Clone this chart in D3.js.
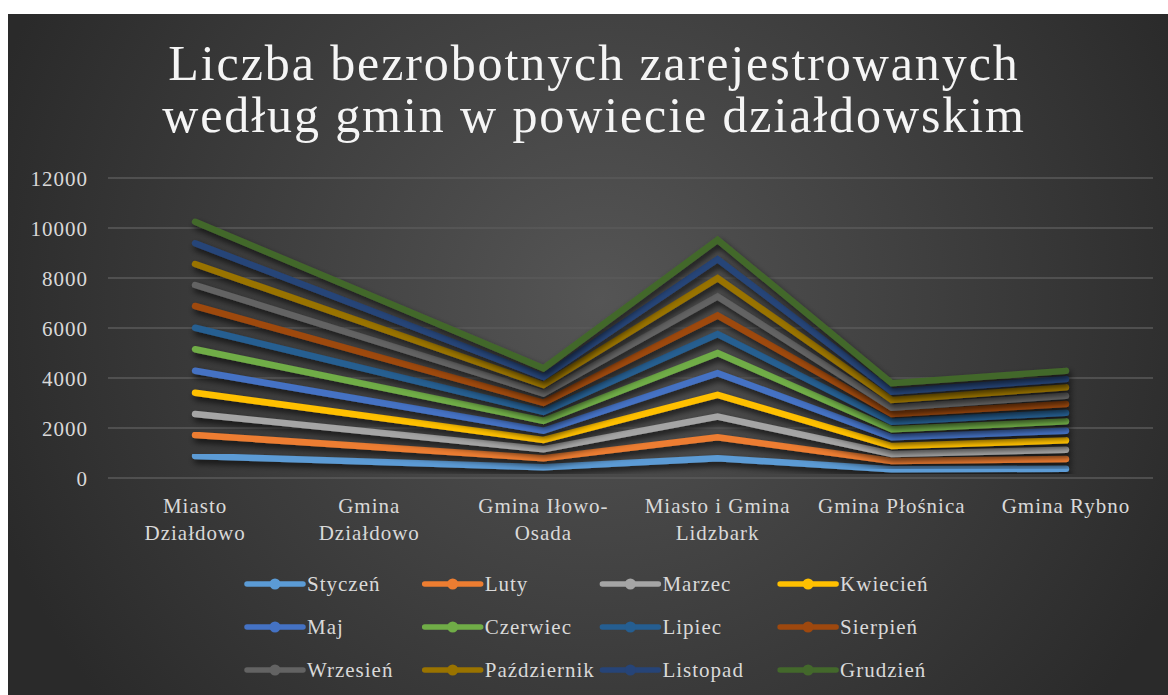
<!DOCTYPE html>
<html>
<head>
<meta charset="utf-8">
<script src="https://cdn.jsdelivr.net/npm/d3@7"></script>
<style>
  body { margin: 0; background: #fff; }
  svg text { font-family: "Liberation Serif", "Times New Roman", serif; }
</style>
</head>
<body>
<div id="chart"></div>
<script>
let categories = ["Miasto Działdowo", "Gmina Działdowo", "Gmina Iłowo-Osada", "Miasto i Gmina Lidzbark", "Gmina Płośnica", "Gmina Rybno"];
let months = ["Styczeń", "Luty", "Marzec", "Kwiecień", "Maj", "Czerwiec", "Lipiec", "Sierpień", "Wrzesień", "Październik", "Listopad", "Grudzień"];
let colors = ["#5B9BD5", "#ED7D31", "#A5A5A5", "#FFC000", "#4472C4", "#70AD47", "#255E91", "#9E480E", "#636363", "#997300", "#264478", "#43682B"];
let yTicks = [0, 2000, 4000, 6000, 8000, 10000, 12000];

// monthly values per gmina (Gmina Działdowo empty -> line connects over it)
let styczen     = [880, null, 430, 790, 350, 370];
let luty        = [840, null, 360, 840, 330, 390];
let marzec      = [840, null, 360, 825, 280, 370];
let kwiecien    = [850, null, 370, 870, 320, 375];
let maj         = [880, null, 370, 870, 350, 385];
let czerwiec    = [860, null, 400, 800, 320, 375];
let lipiec      = [860, null, 360, 760, 305, 345];
let sierpien    = [870, null, 360, 745, 310, 350];
let wrzesien    = [840, null, 375, 760, 250, 330];
let pazdziernik = [840, null, 335, 735, 310, 335];
let listopad    = [830, null, 330, 760, 330, 330];
let grudzien    = [860, null, 340, 770, 335, 330];
let seriesValues = [styczen, luty, marzec, kwiecien, maj, czerwiec, lipiec, sierpien, wrzesien, pazdziernik, listopad, grudzien];

let W = 1168, H = 695;
let plot = {left: 108, right: 1153, top: 178, bottom: 478};

let svg = d3.select("#chart").append("svg")
  .attr("width", W).attr("height", H);

let defs = svg.append("defs");
let grad = defs.append("radialGradient").attr("id", "bg")
  .attr("gradientUnits", "userSpaceOnUse")
  .attr("cx", 600).attr("cy", 300).attr("r", 640);
grad.append("stop").attr("offset", "0%").attr("stop-color", "#555555");
grad.append("stop").attr("offset", "100%").attr("stop-color", "#2a2a2a");

let shadow = defs.append("filter").attr("id", "shadow")
  .attr("x", "-10%").attr("y", "-10%").attr("width", "130%").attr("height", "140%");
shadow.append("feDropShadow").attr("dx", 2).attr("dy", 4).attr("stdDeviation", 3)
  .attr("flood-color", "#000").attr("flood-opacity", 0.7);

svg.append("rect").attr("x", 8).attr("y", 14).attr("width", W - 8).attr("height", H - 14)
  .attr("fill", "url(#bg)");

// title
let title = svg.append("text").attr("text-anchor", "middle")
  .attr("fill", "#f5f5f5").style("font-size", "50px").style("letter-spacing", "1.9px");
title.append("tspan").attr("x", 594).attr("y", 80).text("Liczba bezrobotnych zarejestrowanych");
title.append("tspan").attr("x", 594).attr("y", 132).text("według gmin w powiecie działdowskim");

let x = d3.scaleBand().domain(categories).range([plot.left, plot.right]);
let y = d3.scaleLinear().domain([0, 12000]).range([plot.bottom, plot.top]);
let cx = c => x(c) + x.bandwidth() / 2;

// grid
svg.append("g").selectAll("line").data(yTicks).enter().append("line")
  .attr("x1", plot.left).attr("x2", plot.right)
  .attr("y1", d => y(d)).attr("y2", d => y(d))
  .attr("stroke", "#5a5a5a").attr("stroke-width", 1.5);

// y axis
let yAxis = svg.append("g").attr("transform", "translate(" + plot.left + ",0)")
  .call(d3.axisLeft(y).tickValues(yTicks).tickSize(0).tickPadding(20).tickFormat(d3.format("d")));
yAxis.select(".domain").remove();
yAxis.selectAll("text").attr("fill", "#d9d9d9").style("font-size", "21px")
  .style("letter-spacing", "1px").attr("dy", "0.35em");

// x axis labels
let xAxis = svg.append("g").attr("transform", "translate(0," + plot.bottom + ")")
  .call(d3.axisBottom(x).tickSize(0).tickPadding(0));
xAxis.select(".domain").remove();
xAxis.selectAll("text").attr("fill", "#d9d9d9").style("font-size", "21px")
  .style("letter-spacing", "1px").attr("y", 35).attr("dy", 0)
  .each(function(d){ wrap(d3.select(this), d, 150); });

function wrap(sel, label, maxW){
  let tokens = label.match(/[^ -]+[ -]?/g);
  sel.text(null);
  let lines = [], cur = "";
  let probe = sel.append("tspan");
  tokens.forEach(t => {
    let test = (cur + t);
    probe.text(test.trim());
    if (cur && probe.node().getComputedTextLength() > maxW){
      lines.push(cur.trim()); cur = t;
    } else cur = test;
  });
  lines.push(cur.trim());
  probe.remove();
  lines.forEach((l, i) => {
    sel.append("tspan").attr("x", 0).attr("y", 35 + i * 27).text(l);
  });
}

// cumulative (stacked) values
let stacked = [];
seriesValues.forEach((vals, k) => {
  stacked.push(vals.map((v, i) => v == null ? null : v + (k ? stacked[k - 1][i] : 0)));
});

let line = d3.line().x(d => cx(d.cat)).y(d => y(d.value));

svg.append("g").selectAll("path").data(stacked).enter().append("path")
  .attr("d", vals => line(vals.map((v, i) => ({cat: categories[i], value: v})).filter(p => p.value != null)))
  .attr("fill", "none")
  .attr("stroke", (d, i) => colors[i])
  .attr("stroke-width", 6.5)
  .attr("stroke-linecap", "round")
  .attr("stroke-linejoin", "miter")
  .attr("filter", "url(#shadow)");

// legend
let legend = svg.append("g");
let item = legend.selectAll("g").data(months).enter().append("g")
  .attr("transform", (d, i) => "translate(" + (247 + (i % 4) * 177.7) + "," + (584 + Math.floor(i / 4) * 43) + ")");
item.append("line").attr("x1", 0).attr("x2", 56).attr("y1", 0).attr("y2", 0)
  .attr("stroke", (d, i) => colors[i]).attr("stroke-width", 5.5).attr("stroke-linecap", "round");
item.append("circle").attr("cx", 28).attr("cy", 0).attr("r", 5.5)
  .attr("fill", (d, i) => colors[i]);
item.append("text").attr("x", 60).attr("y", 0).attr("dy", "0.35em")
  .attr("fill", "#d9d9d9").style("font-size", "21px").style("letter-spacing", "1px")
  .text(d => d);
</script>
</body>
</html>
